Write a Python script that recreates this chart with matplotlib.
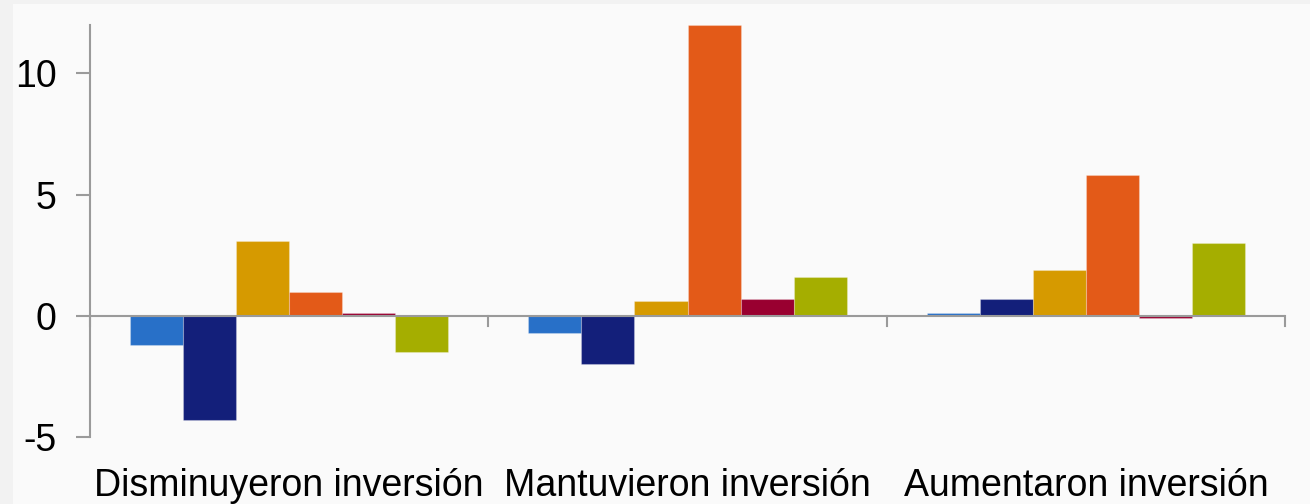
import numpy as np
import matplotlib
matplotlib.use('Agg')
from matplotlib import pyplot as plt
from matplotlib.patches import Rectangle
import matplotlib.ticker as mticker

# Categories and series (one value per category, six series)
categories = ['Disminuyeron inversión', 'Mantuvieron inversión', 'Aumentaron inversión']
serie_1 = [-1.2, -0.7, 0.1]
serie_2 = [-4.3, -2.0, 0.7]
serie_3 = [3.1, 0.6, 1.9]
serie_4 = [1.0, 12.0, 5.8]
serie_5 = [0.1, 0.7, -0.1]
serie_6 = [-1.5, 1.6, 3.0]
series = [serie_1, serie_2, serie_3, serie_4, serie_5, serie_6]
colores = ['#2870c8', '#131f7a', '#d69a00', '#e35a18', '#990030', '#a5ae00']
y_ticks = [-5, 0, 5, 10]

plt.rcParams['font.family'] = ['Liberation Sans', 'DejaVu Sans']

fig = plt.figure(figsize=(13.1, 5.04), dpi=100)
fig.patch.set_facecolor('#f2f2f2')
# inner lighter panel
fig.patches.append(Rectangle((13 / 1310, 0), 1, 1 - 4 / 504, transform=fig.transFigure,
                             facecolor='#fafafa', edgecolor='none', zorder=-1))

ax = fig.add_axes([90 / 1310, (504 - 437) / 504, (1285 - 90) / 1310, (437 - 25) / 504])
ax.set_facecolor('none')

n = len(series)
ancho = 0.8 / n
x = np.arange(len(categories))
for i, (vals, col) in enumerate(zip(series, colores)):
    pos = x - 0.4 + ancho * (i + 0.5)
    ax.bar(pos, vals, width=ancho, color=col, edgecolor=(1, 1, 1, 0.25), linewidth=0.8, zorder=2)

gris = '#9a9a9a'
ax.set_xlim(-0.5, len(categories) - 0.5)
ax.set_ylim(-5, 12)
ax.axhline(0, color=gris, linewidth=1.5, zorder=3)

for s in ['top', 'right', 'bottom']:
    ax.spines[s].set_visible(False)
ax.spines['left'].set_color(gris)
ax.spines['left'].set_linewidth(1.5)

ax.set_yticks(y_ticks)
ax.yaxis.set_major_formatter(mticker.FuncFormatter(lambda v, p: f'{int(v)}'.replace('\u2212', '-')))
ax.tick_params(axis='y', length=10, width=1.5, color=gris, labelsize=27, pad=14, labelcolor='black')

# category labels, tick marks at group boundaries hanging from zero line
ax.set_xticks(x)
ax.set_xticklabels(categories)
ax.tick_params(axis='x', length=0, labelsize=27, pad=22, labelcolor='black')
for b in np.arange(len(categories) + 1) - 0.5:
    ax.plot([b, b], [0, -0.42], color=gris, linewidth=1.5, zorder=3, clip_on=False)

fig.savefig('out.png', dpi=100, facecolor=fig.get_facecolor())
